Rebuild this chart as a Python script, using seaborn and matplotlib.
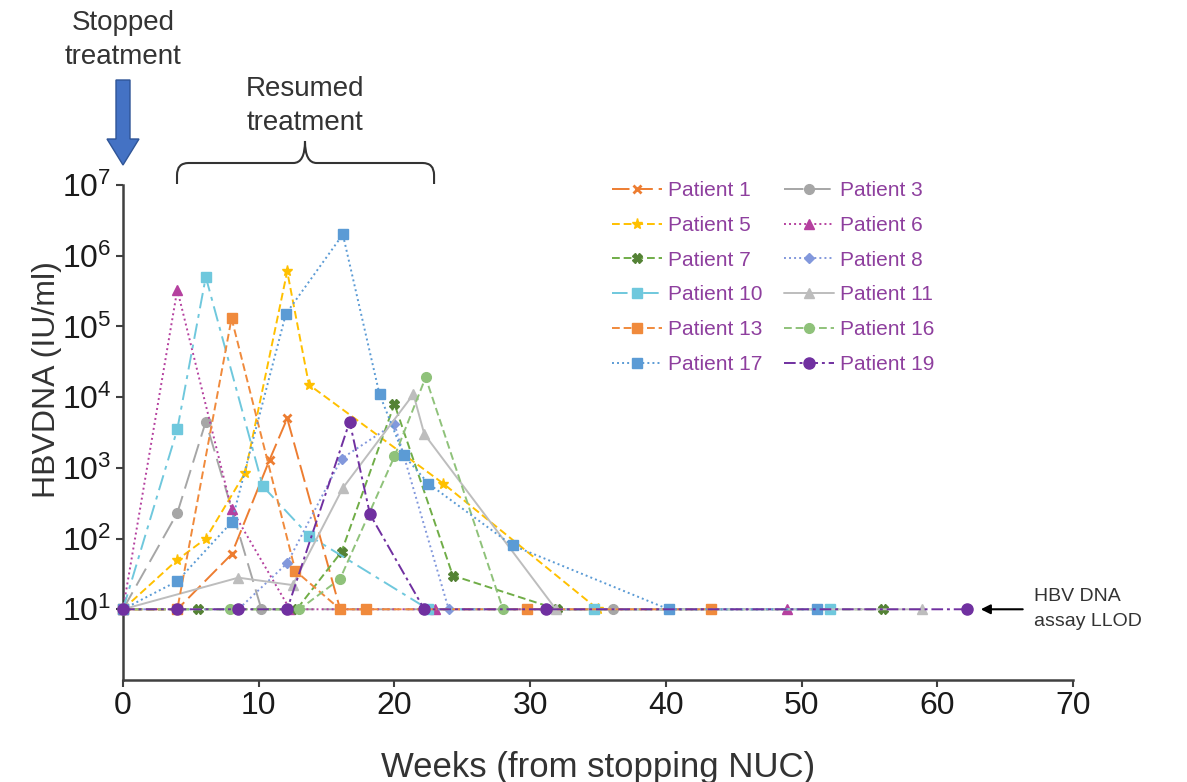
import matplotlib
matplotlib.use("Agg")
import matplotlib.pyplot as plt
import seaborn as sns
from matplotlib.patches import FancyArrow, PathPatch
from matplotlib.path import Path
from matplotlib.ticker import NullLocator
import matplotlib.transforms as mtransforms

# ---------------- data (weeks, HBV DNA IU/ml) ----------------
p1_weeks = [0, 4, 8, 10.8, 12.1, 16, 17.9]
p1_dna = [10, 10, 60, 1300, 5000, 10, 10]
p3_weeks = [0, 4, 6.1, 10.2, 36.1]
p3_dna = [10, 230, 4500, 10, 10]
p5_weeks = [0, 4, 6.1, 9, 12.1, 13.7, 23.6, 35]
p5_dna = [10, 50, 100, 850, 6e5, 1.5e4, 600, 10]
p6_weeks = [0, 4, 8, 12.3, 23, 48.9]
p6_dna = [10, 3.3e5, 260, 10, 10, 10]
p7_weeks = [0, 5.5, 12.8, 16.1, 20, 24.3, 32, 56]
p7_dna = [10, 10, 10, 65, 8000, 30, 10, 10]
p8_weeks = [0, 8.5, 12.1, 16.1, 20, 24]
p8_dna = [10, 10, 45, 1350, 4200, 10]
p10_weeks = [0, 4, 6.1, 10.3, 13.7, 22.5, 34.7, 52.1]
p10_dna = [10, 3500, 5e5, 550, 110, 10, 10, 10]
p11_weeks = [0, 8.5, 12.5, 16.2, 21.4, 22.2, 31.9, 58.9]
p11_dna = [10, 28, 22, 520, 1.1e4, 3000, 10, 10]
p13_weeks = [0, 4, 8, 12.7, 16, 17.9, 29.8, 43.3]
p13_dna = [10, 10, 1.3e5, 35, 10, 10, 10, 10]
p16_weeks = [0, 7.9, 13, 16, 20, 22.3, 28]
p16_dna = [10, 10, 10, 27, 1450, 1.9e4, 10]
p17_weeks = [0, 4, 8, 12, 16.2, 18.9, 20.7, 22.5, 28.7, 40.2, 51.1]
p17_dna = [10, 25, 170, 1.5e5, 2e6, 1.1e4, 1500, 600, 80, 10, 10]
p19_weeks = [0, 4, 8.5, 12.1, 16.7, 18.2, 22.2, 31.2, 62.2]
p19_dna = [10, 10, 10, 10, 4500, 220, 10, 10, 10]

x_ticks = [0, 10, 20, 30, 40, 50, 60, 70]
y_ticks = [1e1, 1e2, 1e3, 1e4, 1e5, 1e6, 1e7]

series = {
    "Patient 1": (p1_weeks, p1_dna),
    "Patient 3": (p3_weeks, p3_dna),
    "Patient 5": (p5_weeks, p5_dna),
    "Patient 6": (p6_weeks, p6_dna),
    "Patient 7": (p7_weeks, p7_dna),
    "Patient 8": (p8_weeks, p8_dna),
    "Patient 10": (p10_weeks, p10_dna),
    "Patient 11": (p11_weeks, p11_dna),
    "Patient 13": (p13_weeks, p13_dna),
    "Patient 16": (p16_weeks, p16_dna),
    "Patient 17": (p17_weeks, p17_dna),
    "Patient 19": (p19_weeks, p19_dna),
}

# ---------------- styles ----------------
styles = {
    "Patient 1": dict(color="#ED7D31", ls=(0, (9, 3)), marker="x", ms=6, mec="#ED7D31", mew=2.0),
    "Patient 3": dict(color="#A6A6A6", ls=(0, (10, 4)), marker="o", ms=7, mec="#A6A6A6", mew=1),
    "Patient 5": dict(color="#FFC000", ls=(0, (4, 2)), marker="*", ms=8, mec="#FFC000", mew=1),
    "Patient 6": dict(color="#B5409F", ls=(0, (1, 1.6)), marker="^", ms=7, mec="#B5409F", mew=1),
    "Patient 7": dict(color="#70AD47", ls=(0, (4, 2)), marker="X", ms=7, mec="#548235", mfc="#548235", mew=1),
    "Patient 8": dict(color="#8298DC", ls=(0, (1, 1.6)), marker="D", ms=5.5, mec="#8298DC", mew=1),
    "Patient 10": dict(color="#6FC8DD", ls=(0, (8, 3, 2, 3)), marker="s", ms=7.5, mec="#6FC8DD", mew=1),
    "Patient 11": dict(color="#BDBDBD", ls="-", marker="^", ms=6.5, mec="#BDBDBD", mew=1),
    "Patient 13": dict(color="#F08A3C", ls=(0, (4, 2)), marker="s", ms=7.5, mec="#F08A3C", mew=1),
    "Patient 16": dict(color="#8FC27A", ls=(0, (4, 2)), marker="o", ms=7, mec="#8FC27A", mew=1),
    "Patient 17": dict(color="#5B9BD5", ls=(0, (1, 1.6)), marker="s", ms=7, mec="#5B9BD5", mew=1),
    "Patient 19": dict(color="#7030A0", ls=(0, (6, 2, 1.5, 2)), marker="o", ms=8, mec="#7030A0", mew=1),
}

sns.set_theme(style="ticks")
plt.rcParams["font.family"] = ["Liberation Sans", "DejaVu Sans"]

W, H = 1187, 782
fig = plt.figure(figsize=(W / 100, H / 100), dpi=100)
ax = fig.add_axes([123 / W, 1 - 680 / H, (1073 - 123) / W, (680 - 185) / H])

handles = {}
for name, (wk, dna) in series.items():
    st = styles[name]
    n_before = len(ax.lines)
    sns.lineplot(x=wk, y=dna, ax=ax, estimator=None, color=st["color"],
                 linestyle=st["ls"], linewidth=1.4, marker=st["marker"],
                 markersize=st["ms"], markeredgecolor=st["mec"],
                 markerfacecolor=st.get("mfc", st["color"]),
                 markeredgewidth=st["mew"], label=name, legend=False,
                 clip_on=False, zorder=3)
    handles[name] = ax.lines[n_before]

ax.set_yscale("log")
ax.set_ylim(1, 1e7)
ax.set_xlim(0, 70)
ax.set_yticks(y_ticks)
ax.yaxis.set_minor_locator(NullLocator())
ax.set_xticks(x_ticks)

for s in ["top", "right"]:
    ax.spines[s].set_visible(False)
for s in ["left", "bottom"]:
    ax.spines[s].set_color("#404040")
    ax.spines[s].set_linewidth(1.8)
ax.tick_params(axis="both", labelsize=23, colors="#404040", labelcolor="#1a1a1a",
               length=5, width=1.5)
ax.tick_params(axis="x", pad=3)

ax.set_xlabel("Weeks (from stopping NUC)", fontsize=25, color="#333333")
ax.xaxis.set_label_coords(0.5, (680 - 751) / 495)
ax.set_ylabel("HBVDNA (IU/ml)", fontsize=23, color="#333333")
ax.yaxis.set_label_coords((62 - 123) / 950, (680 - 380) / 495)

# legend
order = ["Patient 1", "Patient 5", "Patient 7", "Patient 10", "Patient 13", "Patient 17",
         "Patient 3", "Patient 6", "Patient 8", "Patient 11", "Patient 16", "Patient 19"]
leg = ax.legend([handles[n] for n in order], order, ncol=2, frameon=False,
                fontsize=15, handlelength=2.4, handletextpad=0.3, columnspacing=1.0,
                labelspacing=0.76, loc="upper left",
                bbox_to_anchor=(612 / W, 1 - 181 / H), bbox_transform=fig.transFigure,
                borderaxespad=0, borderpad=0)
for t in leg.get_texts():
    t.set_color("#8E3F9E")

# annotations
fig.text(123 / W, 1 - 40 / H, "Stopped\ntreatment", ha="center", va="center",
         fontsize=20, color="#333333", linespacing=1.4)
fig.text(305 / W, 1 - 106 / H, "Resumed\ntreatment", ha="center", va="center",
         fontsize=20, color="#333333", linespacing=1.4)

arrow = FancyArrow(123 / W, 1 - 80 / H, 0, -(165 - 80) / H, width=14 / W,
                   head_width=32 / W, head_length=26 / H, length_includes_head=True,
                   transform=fig.transFigure, facecolor="#4472C4", edgecolor="#2F5597",
                   linewidth=1)
fig.patches.append(arrow)

# brace (x in data units, y in figure fraction)
tr = mtransforms.blended_transform_factory(ax.transData, fig.transFigure)
xl, xc, xr = 3.98, 13.41, 22.92
yb, yh, yp = 1 - 184 / H, 1 - 163 / H, 1 - 141 / H
dy = 12 / H
dx = 0.85
verts = [(xl, yb), (xl, yh - dy), (xl, yh), (xl + dx, yh), (xc - dx, yh), (xc, yh), (xc, yp),
         (xc, yh), (xc + dx, yh), (xr - dx, yh), (xr, yh), (xr, yh - dy), (xr, yb)]
codes = [Path.MOVETO, Path.LINETO, Path.CURVE3, Path.CURVE3, Path.LINETO, Path.CURVE3, Path.CURVE3,
         Path.CURVE3, Path.CURVE3, Path.LINETO, Path.CURVE3, Path.CURVE3, Path.LINETO]
brace = PathPatch(Path(verts, codes), transform=tr, facecolor="none", edgecolor="#333333",
                  linewidth=1.5, clip_on=False)
ax.add_patch(brace)

# LLOD annotation
ax.annotate("", xy=(63.0, 10), xytext=(66.5, 10),
            arrowprops=dict(arrowstyle="-|>", color="black", lw=1.5, mutation_scale=14),
            annotation_clip=False)
ax.text(67.1, 10, "HBV DNA\nassay LLOD", ha="left", va="center", fontsize=14,
        color="#333333", linespacing=1.6, clip_on=False)

fig.savefig("out.png", dpi=100)
